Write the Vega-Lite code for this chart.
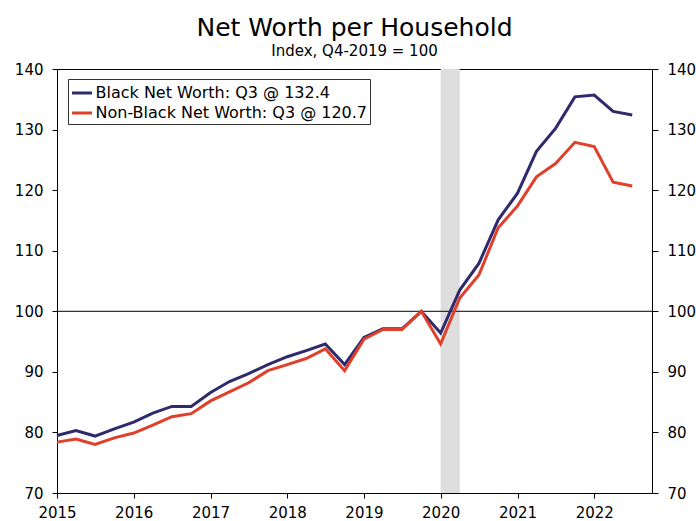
{
  "$schema": "https://vega.github.io/schema/vega-lite/v6.json",
  "autosize": {"type": "none"},
  "padding": {"left": 57, "top": 69, "right": 44, "bottom": 28},
  "width": 595,
  "height": 424,
  "title": {
    "text": "Net Worth per Household",
    "subtitle": "Index, Q4-2019 = 100",
    "fontSize": 25,
    "fontWeight": "normal",
    "subtitleFontSize": 15,
    "subtitleColor": "black",
    "color": "black",
    "anchor": "middle",
    "offset": 3,
    "subtitlePadding": 3
  },
  "config": {
    "font": "DejaVu Sans",
    "view": {"stroke": "black", "strokeWidth": 1},
    "axis": {
      "domainColor": "black",
      "tickColor": "black",
      "labelColor": "black",
      "labelFontSize": 15,
      "grid": false,
      "tickSize": 5,
      "title": null
    }
  },
  "datasets": {
    "series": [
      {"date": "2015-01-01", "series": "Black Net Worth: Q3 @ 132.4", "value": 79.5},
      {"date": "2015-04-01", "series": "Black Net Worth: Q3 @ 132.4", "value": 80.3},
      {"date": "2015-07-01", "series": "Black Net Worth: Q3 @ 132.4", "value": 79.4},
      {"date": "2015-10-01", "series": "Black Net Worth: Q3 @ 132.4", "value": 80.6},
      {"date": "2016-01-01", "series": "Black Net Worth: Q3 @ 132.4", "value": 81.7},
      {"date": "2016-04-01", "series": "Black Net Worth: Q3 @ 132.4", "value": 83.2},
      {"date": "2016-07-01", "series": "Black Net Worth: Q3 @ 132.4", "value": 84.3},
      {"date": "2016-10-01", "series": "Black Net Worth: Q3 @ 132.4", "value": 84.3},
      {"date": "2017-01-01", "series": "Black Net Worth: Q3 @ 132.4", "value": 86.6},
      {"date": "2017-04-01", "series": "Black Net Worth: Q3 @ 132.4", "value": 88.4},
      {"date": "2017-07-01", "series": "Black Net Worth: Q3 @ 132.4", "value": 89.7},
      {"date": "2017-10-01", "series": "Black Net Worth: Q3 @ 132.4", "value": 91.2},
      {"date": "2018-01-01", "series": "Black Net Worth: Q3 @ 132.4", "value": 92.5},
      {"date": "2018-04-01", "series": "Black Net Worth: Q3 @ 132.4", "value": 93.5},
      {"date": "2018-07-01", "series": "Black Net Worth: Q3 @ 132.4", "value": 94.6},
      {"date": "2018-10-01", "series": "Black Net Worth: Q3 @ 132.4", "value": 91.2},
      {"date": "2019-01-01", "series": "Black Net Worth: Q3 @ 132.4", "value": 95.7},
      {"date": "2019-04-01", "series": "Black Net Worth: Q3 @ 132.4", "value": 97.1},
      {"date": "2019-07-01", "series": "Black Net Worth: Q3 @ 132.4", "value": 97.1},
      {"date": "2019-10-01", "series": "Black Net Worth: Q3 @ 132.4", "value": 100.0},
      {"date": "2020-01-01", "series": "Black Net Worth: Q3 @ 132.4", "value": 96.4},
      {"date": "2020-04-01", "series": "Black Net Worth: Q3 @ 132.4", "value": 103.5},
      {"date": "2020-07-01", "series": "Black Net Worth: Q3 @ 132.4", "value": 107.9},
      {"date": "2020-10-01", "series": "Black Net Worth: Q3 @ 132.4", "value": 115.1},
      {"date": "2021-01-01", "series": "Black Net Worth: Q3 @ 132.4", "value": 119.5},
      {"date": "2021-04-01", "series": "Black Net Worth: Q3 @ 132.4", "value": 126.4},
      {"date": "2021-07-01", "series": "Black Net Worth: Q3 @ 132.4", "value": 130.2},
      {"date": "2021-10-01", "series": "Black Net Worth: Q3 @ 132.4", "value": 135.4},
      {"date": "2022-01-01", "series": "Black Net Worth: Q3 @ 132.4", "value": 135.7},
      {"date": "2022-04-01", "series": "Black Net Worth: Q3 @ 132.4", "value": 133.0},
      {"date": "2022-07-01", "series": "Black Net Worth: Q3 @ 132.4", "value": 132.4},
      {"date": "2015-01-01", "series": "Non-Black Net Worth: Q3 @ 120.7", "value": 78.4},
      {"date": "2015-04-01", "series": "Non-Black Net Worth: Q3 @ 120.7", "value": 78.9},
      {"date": "2015-07-01", "series": "Non-Black Net Worth: Q3 @ 120.7", "value": 78.0},
      {"date": "2015-10-01", "series": "Non-Black Net Worth: Q3 @ 120.7", "value": 79.1},
      {"date": "2016-01-01", "series": "Non-Black Net Worth: Q3 @ 120.7", "value": 79.9},
      {"date": "2016-04-01", "series": "Non-Black Net Worth: Q3 @ 120.7", "value": 81.2},
      {"date": "2016-07-01", "series": "Non-Black Net Worth: Q3 @ 120.7", "value": 82.6},
      {"date": "2016-10-01", "series": "Non-Black Net Worth: Q3 @ 120.7", "value": 83.1},
      {"date": "2017-01-01", "series": "Non-Black Net Worth: Q3 @ 120.7", "value": 85.2},
      {"date": "2017-04-01", "series": "Non-Black Net Worth: Q3 @ 120.7", "value": 86.7},
      {"date": "2017-07-01", "series": "Non-Black Net Worth: Q3 @ 120.7", "value": 88.2},
      {"date": "2017-10-01", "series": "Non-Black Net Worth: Q3 @ 120.7", "value": 90.2},
      {"date": "2018-01-01", "series": "Non-Black Net Worth: Q3 @ 120.7", "value": 91.2},
      {"date": "2018-04-01", "series": "Non-Black Net Worth: Q3 @ 120.7", "value": 92.2},
      {"date": "2018-07-01", "series": "Non-Black Net Worth: Q3 @ 120.7", "value": 93.8},
      {"date": "2018-10-01", "series": "Non-Black Net Worth: Q3 @ 120.7", "value": 90.2},
      {"date": "2019-01-01", "series": "Non-Black Net Worth: Q3 @ 120.7", "value": 95.4},
      {"date": "2019-04-01", "series": "Non-Black Net Worth: Q3 @ 120.7", "value": 97.0},
      {"date": "2019-07-01", "series": "Non-Black Net Worth: Q3 @ 120.7", "value": 97.0},
      {"date": "2019-10-01", "series": "Non-Black Net Worth: Q3 @ 120.7", "value": 100.0},
      {"date": "2020-01-01", "series": "Non-Black Net Worth: Q3 @ 120.7", "value": 94.6},
      {"date": "2020-04-01", "series": "Non-Black Net Worth: Q3 @ 120.7", "value": 102.2},
      {"date": "2020-07-01", "series": "Non-Black Net Worth: Q3 @ 120.7", "value": 106.0},
      {"date": "2020-10-01", "series": "Non-Black Net Worth: Q3 @ 120.7", "value": 113.8},
      {"date": "2021-01-01", "series": "Non-Black Net Worth: Q3 @ 120.7", "value": 117.4},
      {"date": "2021-04-01", "series": "Non-Black Net Worth: Q3 @ 120.7", "value": 122.2},
      {"date": "2021-07-01", "series": "Non-Black Net Worth: Q3 @ 120.7", "value": 124.4},
      {"date": "2021-10-01", "series": "Non-Black Net Worth: Q3 @ 120.7", "value": 127.9},
      {"date": "2022-01-01", "series": "Non-Black Net Worth: Q3 @ 120.7", "value": 127.2},
      {"date": "2022-04-01", "series": "Non-Black Net Worth: Q3 @ 120.7", "value": 121.3},
      {"date": "2022-07-01", "series": "Non-Black Net Worth: Q3 @ 120.7", "value": 120.7}
    ],
    "recession": [
      {"start": "2020-01-01", "end": "2020-04-01"}
    ]
  },
  "layer": [
    {
      "data": {"name": "recession"},
      "mark": {"type": "rect", "color": "#dedede"},
      "encoding": {
        "x": {
          "field": "start", "type": "temporal",
          "scale": {"type": "utc", "domain": ["2015-01-01", "2022-10-03"]},
          "axis": {"format": "%Y", "tickCount": {"interval": "year", "step": 1}, "labelPadding": 7, "labelAngle": 0, "labelFlush": false, "labelOverlap": false}
        },
        "x2": {"field": "end"}
      }
    },
    {
      "data": {"name": "recession"},
      "mark": {"type": "rule", "color": "black", "strokeWidth": 1},
      "encoding": {
        "y": {
          "datum": 100, "type": "quantitative",
          "scale": {"domain": [70, 140], "nice": false},
          "axis": {"orient": "right", "values": [70, 80, 90, 100, 110, 120, 130, 140], "tickSize": 6, "labelPadding": 9, "labelFlush": false}
        }
      }
    },
    {
      "data": {"name": "series"},
      "mark": {"type": "line", "strokeWidth": 3},
      "encoding": {
        "x": {"field": "date", "type": "temporal"},
        "y": {
          "field": "value", "type": "quantitative",
          "scale": {"domain": [70, 140], "nice": false},
          "axis": {"orient": "left", "values": [70, 80, 90, 100, 110, 120, 130, 140], "tickSize": 5, "labelPadding": 9, "labelFlush": false}
        },
        "color": {
          "field": "series", "type": "nominal",
          "scale": {"domain": ["Black Net Worth: Q3 @ 132.4", "Non-Black Net Worth: Q3 @ 120.7"], "range": ["#2e2a6c", "#e0402a"]},
          "legend": {
            "title": null,
            "orient": "none",
            "legendX": 11,
            "legendY": 10,
            "fillColor": "white",
            "strokeColor": "#333333",
            "padding": 2.5,
            "symbolType": "stroke",
            "symbolStrokeWidth": 3,
            "symbolSize": 400,
            "labelFontSize": 16,
            "labelColor": "black",
            "labelOffset": 2,
            "rowPadding": -1,
            "labelLimit": 400
          }
        }
      }
    }
  ],
  "resolve": {"scale": {"y": "independent"}}
}
